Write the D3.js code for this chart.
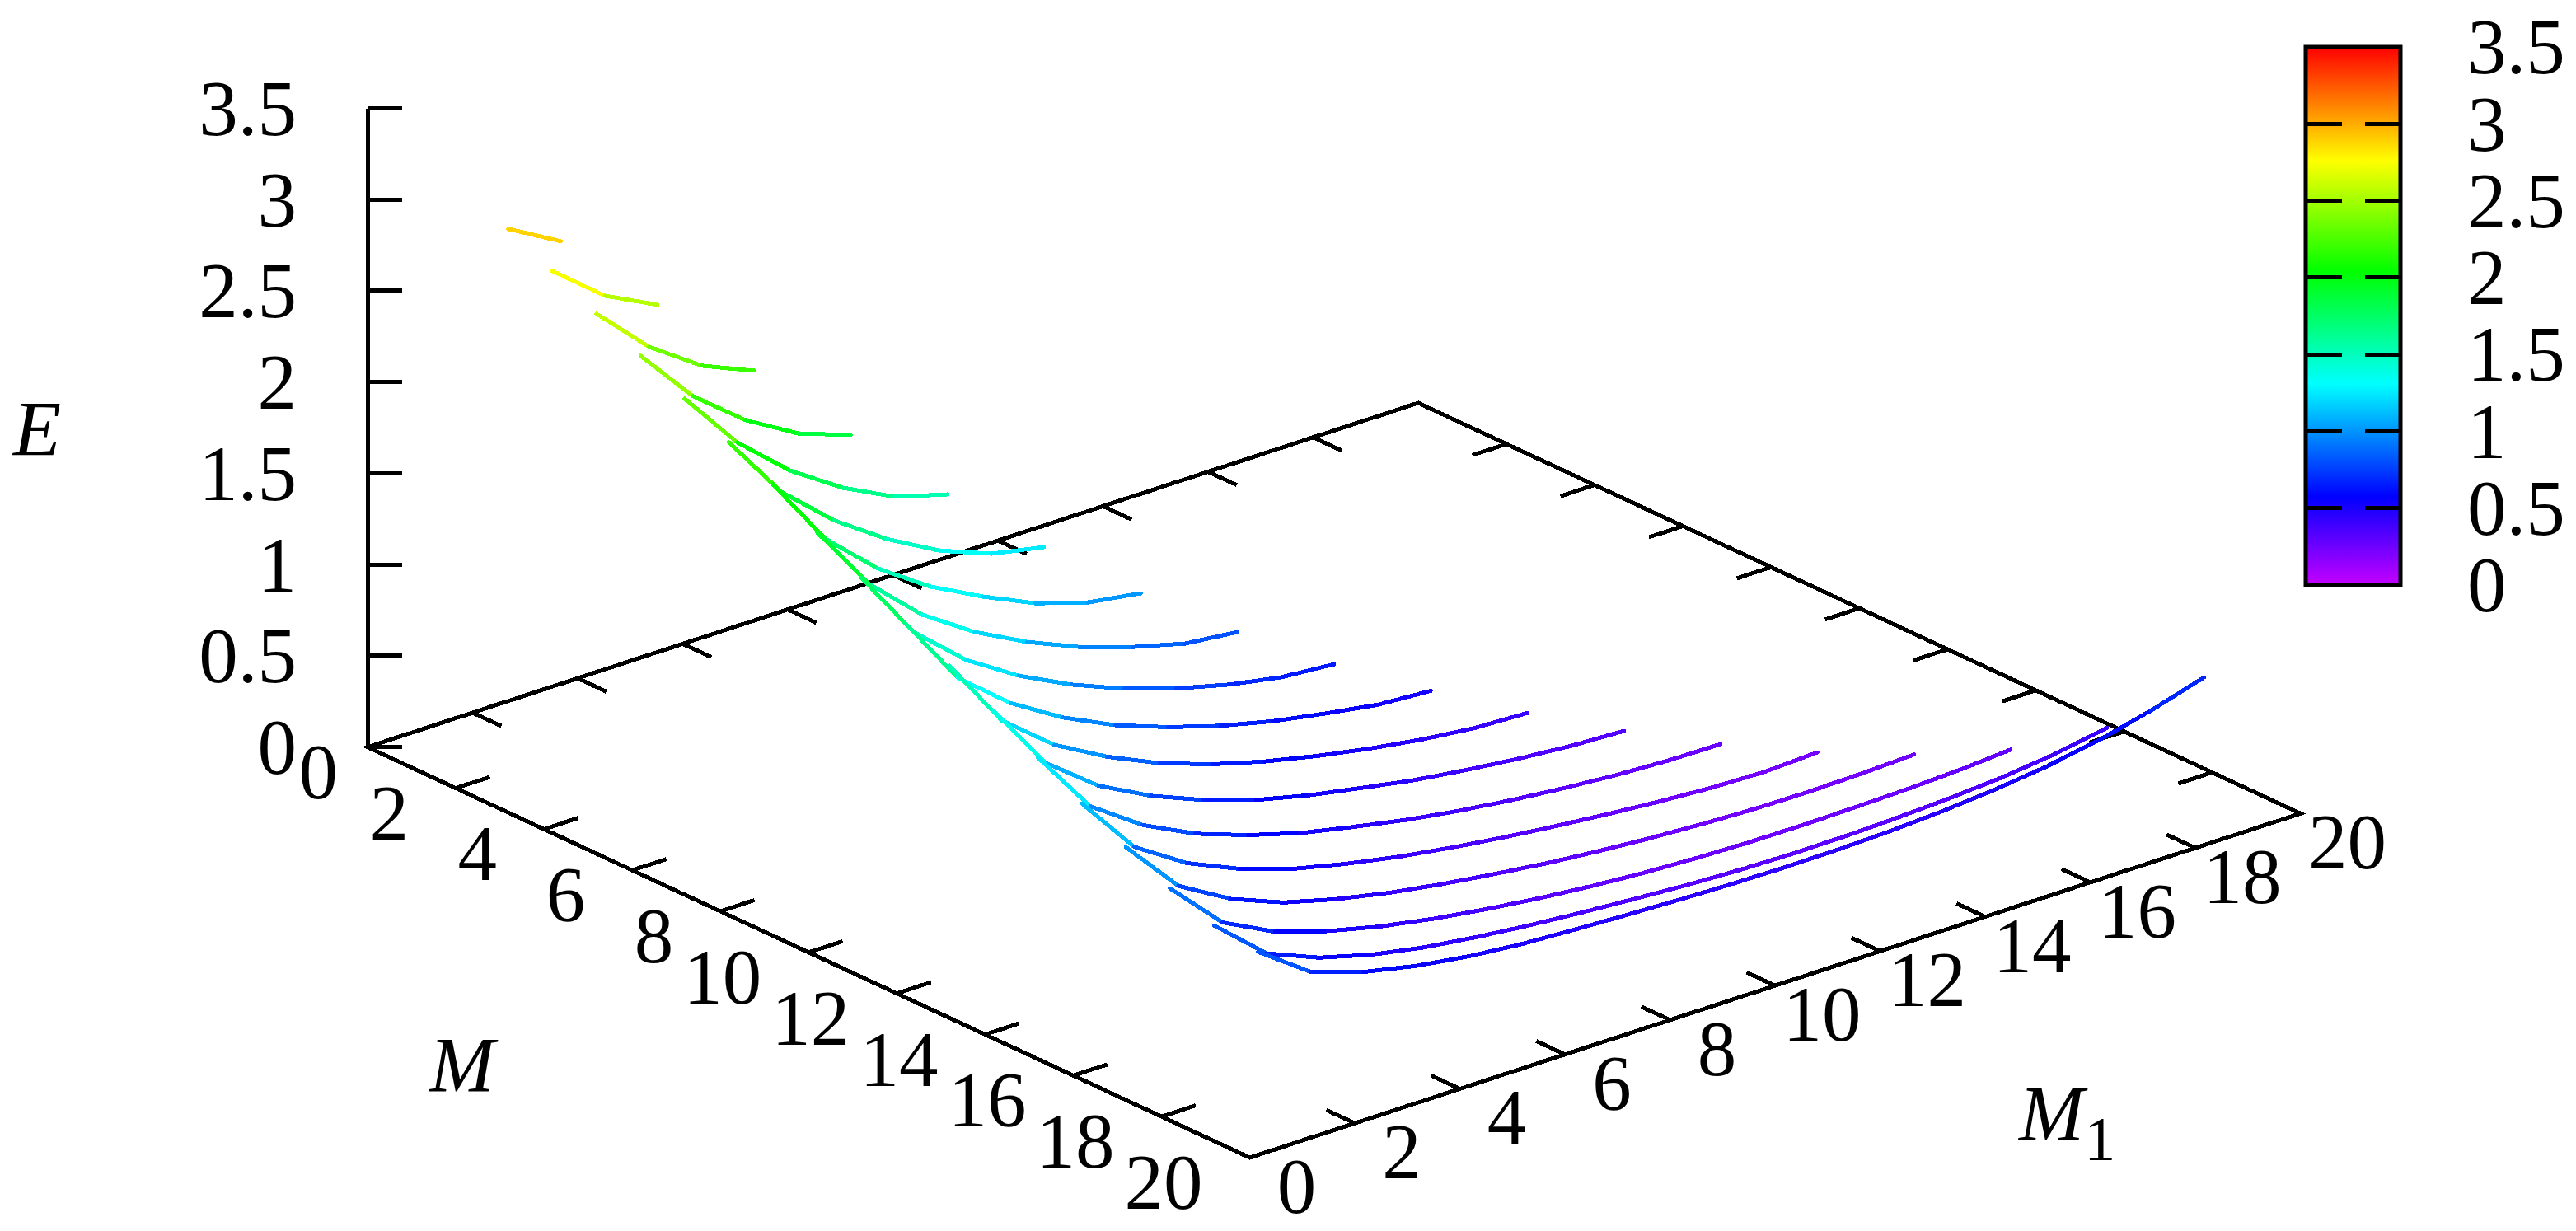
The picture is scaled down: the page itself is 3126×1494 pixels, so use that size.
<!DOCTYPE html>
<html>
<head>
<meta charset="utf-8">
<script src="https://cdn.jsdelivr.net/npm/d3@7"></script>
<style>
  html, body { margin: 0; background: #fff; }
  text { font-family: "Liberation Serif", serif; fill: #000; }
  path, line { shape-rendering: crispEdges; }
</style>
</head>
<body>
<div id="chart"></div>
<script>
// axis ticks
const planeTicks = [0, 2, 4, 6, 8, 10, 12, 14, 16, 18, 20];
const energyTicks = [0, 0.5, 1, 1.5, 2, 2.5, 3, 3.5];
const colorbarInnerTicks = [0.5, 1, 1.5, 2, 2.5, 3];

// palette
const paletteStops = [0, 0.575, 1.308, 2.04, 2.76, 3.5];
const paletteColors = ["#c400ff", "#0000ff", "#00ffff", "#00ff00", "#ffff00", "#ff0000"];

// E, one list per M, M1 = 1..M
const curveM = [2, 3, 4, 5, 6, 7, 8, 9, 10, 11, 12, 13, 14, 15, 16, 17, 18, 19];
const eM2 = [2.970, 2.808];
const eM3 = [2.852, 2.622, 2.478];
const eM4 = [2.730, 2.455, 2.257, 2.135];
const eM5 = [2.612, 2.296, 2.071, 1.904, 1.801];
const eM6 = [2.490, 2.156, 1.908, 1.719, 1.575, 1.494];
const eM7 = [2.363, 1.997, 1.747, 1.551, 1.393, 1.281, 1.223];
const eM8 = [2.245, 1.852, 1.595, 1.402, 1.253, 1.122, 1.033, 0.988];
const eM9 = [2.095, 1.716, 1.455, 1.266, 1.117, 0.995, 0.901, 0.825, 0.794];
const eM10 = [1.959, 1.567, 1.319, 1.139, 0.996, 0.879, 0.786, 0.713, 0.659, 0.636];
const eM11 = [1.823, 1.428, 1.196, 1.022, 0.886, 0.781, 0.694, 0.625, 0.573, 0.527, 0.508];
const eM12 = [1.701, 1.307, 1.079, 0.920, 0.790, 0.690, 0.611, 0.547, 0.493, 0.449, 0.417, 0.405];
const eM13 = [1.565, 1.186, 0.968, 0.818, 0.701, 0.607, 0.538, 0.484, 0.432, 0.394, 0.362, 0.338, 0.325];
const eM14 = [1.425, 1.062, 0.865, 0.723, 0.621, 0.538, 0.477, 0.421, 0.376, 0.340, 0.311, 0.289, 0.275, 0.271];
const eM15 = [1.284, 0.952, 0.769, 0.643, 0.548, 0.481, 0.425, 0.380, 0.342, 0.310, 0.282, 0.258, 0.240, 0.232, 0.244];
const eM16 = [1.157, 0.851, 0.685, 0.571, 0.495, 0.435, 0.388, 0.349, 0.314, 0.287, 0.265, 0.249, 0.238, 0.235, 0.240, 0.250];
const eM17 = [1.044, 0.763, 0.617, 0.527, 0.458, 0.405, 0.363, 0.328, 0.300, 0.279, 0.265, 0.257, 0.255, 0.258, 0.264, 0.275, 0.295];
const eM18 = [0.953, 0.706, 0.588, 0.510, 0.456, 0.418, 0.388, 0.364, 0.344, 0.326, 0.314, 0.308, 0.309, 0.317, 0.330, 0.350, 0.383, 0.434];
const eM19 = [0.921, 0.717, 0.622, 0.561, 0.519, 0.491, 0.475, 0.462, 0.451, 0.443, 0.439, 0.441, 0.448, 0.463, 0.487, 0.521, 0.572, 0.641, 0.727];
const curves = [eM2, eM3, eM4, eM5, eM6, eM7, eM8, eM9, eM10, eM11, eM12, eM13, eM14, eM15, eM16, eM17, eM18, eM19];

const width = 3126;
const height = 1494;
const fontSize = 95;
const lineW = 5;

const svg = d3
  .select("#chart")
  .append("svg")
  .attr("width", width)
  .attr("height", height)
  .style("display", "block");

// oblique view: each data axis adds its own screen offset
const xFromM = d3.scaleLinear().domain([0, 20]).range([446, 1516.6]);
const yFromM = d3.scaleLinear().domain([0, 20]).range([906.7, 1405]);
const xFromM1 = d3.scaleLinear().domain([0, 20]).range([0, 1275]);
const yFromM1 = d3.scaleLinear().domain([0, 20]).range([0, -417.7]);
const yFromE = d3.scaleLinear().domain([0, 3.5]).range([906.7, 131.5]);

function project(m, m1, e) {
  return [
    xFromM(m) + xFromM1(m1),
    yFromM(m) + yFromM1(m1) + yFromE(e) - yFromE(0),
  ];
}

const colorScale = d3.scaleLinear().domain(paletteStops).range(paletteColors);

// base plane
const base = svg.append("g").attr("fill", "none").attr("stroke", "#000").attr("stroke-width", lineW);
const line3d = d3.line();

base
  .append("path")
  .attr("stroke-linejoin", "miter")
  .attr("d", line3d([project(0, 0, 0), project(20, 0, 0), project(20, 20, 0), project(0, 20, 0)]) + "Z");

const tickLen = 0.65;
function addTicks(name, from) {
  base
    .selectAll("path." + name)
    .data(planeTicks)
    .enter()
    .append("path")
    .attr("class", name)
    .attr("d", (d) => line3d(from(d)));
}
// front edges and their mirror on the back edges
addTicks("m-front", (d) => [project(d, 0, 0), project(d, tickLen, 0)]);
addTicks("m-back", (d) => [project(d, 20, 0), project(d, 20 - tickLen, 0)]);
addTicks("m1-front", (d) => [project(20, d, 0), project(20 - tickLen, d, 0)]);
addTicks("m1-back", (d) => [project(0, d, 0), project(tickLen, d, 0)]);

// E axis
const eAxis = d3
  .axisLeft(yFromE)
  .tickValues(energyTicks)
  .tickFormat((d) => d)
  .tickSizeInner(-42.3)
  .tickSizeOuter(0)
  .tickPadding(86)
  .offset(0);

const eAxisG = svg.append("g").attr("transform", "translate(446,0)").call(eAxis);
styleAxis(eAxisG);

function styleAxis(g) {
  g.attr("font-family", null).attr("font-size", null);
  g.selectAll("path,line").attr("stroke", "#000").attr("stroke-width", lineW);
  g.selectAll("text").attr("fill", "#000").attr("dy", "0.34em").style("font-size", fontSize + "px");
}

// plane tick labels
const labels = svg.append("g").style("font-size", fontSize + "px");

labels
  .selectAll("text.m")
  .data(planeTicks)
  .enter()
  .append("text")
  .attr("class", "m")
  .attr("text-anchor", "end")
  // the 0 sits closer to the corner than the other labels
  .attr("x", (d) => project(d, 0, 0)[0] - (d === 0 ? 36 : 57))
  .attr("y", (d) => project(d, 0, 0)[1] + 62)
  .text((d) => d);

labels
  .selectAll("text.m1")
  .data(planeTicks)
  .enter()
  .append("text")
  .attr("class", "m1")
  .attr("text-anchor", "middle")
  .attr("x", (d) => project(20, d, 0)[0] + 57)
  .attr("y", (d) => project(20, d, 0)[1] + 67)
  .text((d) => d);

// axis titles
labels.append("text").attr("x", 16).attr("y", 553).style("font-style", "italic").text("E");
labels.append("text").attr("x", 521).attr("y", 1325).style("font-style", "italic").text("M");
const m1Title = labels.append("text").attr("x", 2450).attr("y", 1384);
m1Title.append("tspan").style("font-style", "italic").text("M");
m1Title.append("tspan").attr("dy", 24).style("font-size", "76px").text("1");

// curves: one short path per segment, coloured by the segment's mean E
const curveLayer = svg.append("g").attr("fill", "none").attr("stroke-width", lineW).attr("stroke-linecap", "round");

curves.forEach(function (values, i) {
  const m = curveM[i];
  const segments = d3.pairs(values.map((e, k) => ({ m1: k + 1, e: e })));
  curveLayer
    .selectAll("path.c" + m)
    .data(segments)
    .enter()
    .append("path")
    .attr("class", "c" + m)
    .attr("stroke", (d) => colorScale((d[0].e + d[1].e) / 2))
    .attr("d", (d) => line3d([project(m, d[0].m1, d[0].e), project(m, d[1].m1, d[1].e)]));
});

// colour box
const cbX0 = 2798;
const cbX1 = 2913;
const cbScale = d3.scaleLinear().domain([0, 3.5]).range([710, 57]);

const grad = svg
  .append("defs")
  .append("linearGradient")
  .attr("id", "cbGrad")
  .attr("x1", 0)
  .attr("y1", 1)
  .attr("x2", 0)
  .attr("y2", 0);
grad
  .selectAll("stop")
  .data(paletteStops)
  .enter()
  .append("stop")
  .attr("offset", (d) => d / 3.5)
  .attr("stop-color", (d) => colorScale(d));

svg
  .append("rect")
  .attr("x", cbX0)
  .attr("y", cbScale(3.5))
  .attr("width", cbX1 - cbX0)
  .attr("height", cbScale(0) - cbScale(3.5))
  .attr("fill", "url(#cbGrad)")
  .attr("stroke", "#000")
  .attr("stroke-width", lineW);

const cbLeft = d3.axisRight(cbScale).tickValues(colorbarInnerTicks).tickFormat("").tickSizeInner(44).tickSizeOuter(0).offset(0);
const cbLeftG = svg.append("g").attr("transform", `translate(${cbX0},0)`).call(cbLeft);
styleAxis(cbLeftG);
cbLeftG.select(".domain").remove();

const cbRight = d3.axisLeft(cbScale).tickValues(colorbarInnerTicks).tickFormat("").tickSizeInner(43).tickSizeOuter(0).offset(0);
const cbRightG = svg.append("g").attr("transform", `translate(${cbX1},0)`).call(cbRight);
styleAxis(cbRightG);
cbRightG.select(".domain").remove();

const cbLabels = d3.axisRight(cbScale).tickValues(energyTicks).tickFormat((d) => d).tickSize(0).tickPadding(81).offset(0);
const cbLabelsG = svg.append("g").attr("transform", `translate(${cbX1},0)`).call(cbLabels);
styleAxis(cbLabelsG);
cbLabelsG.select(".domain").remove();
</script>
</body>
</html>
